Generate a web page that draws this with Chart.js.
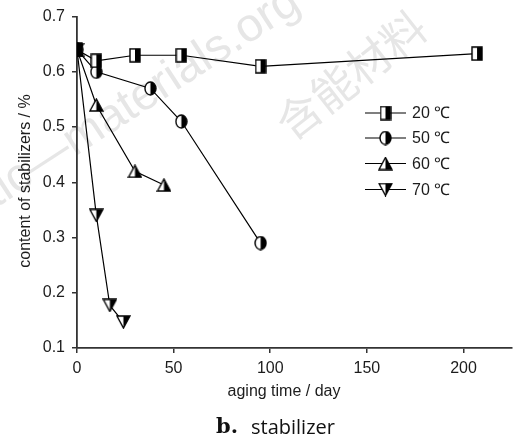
<!DOCTYPE html>
<html>
<head>
<meta charset="utf-8">
<script src="https://cdn.jsdelivr.net/npm/chart.js@4"></script>
<style>
  html, body { margin: 0; padding: 0; background: #fff; }
  canvas { display: block; }
</style>
</head>
<body>
<canvas id="chart" width="519" height="443"></canvas>
<script>
/* stabilizer content vs aging time, four temperatures */
var days20 = [0, 10, 30, 54, 95, 207];
var vals20 = [0.64, 0.62, 0.63, 0.63, 0.61, 0.633];
var days50 = [0, 10, 38, 54, 95];
var vals50 = [0.64, 0.60, 0.57, 0.51, 0.29];
var days60 = [0, 10, 30, 45];
var vals60 = [0.64, 0.54, 0.42, 0.395];
var days70 = [0, 10, 17, 24];
var vals70 = [0.64, 0.34, 0.177, 0.147];
var seriesLabels = ['20 \u2103', '50 \u2103', '60 \u2103', '70 \u2103'];
var xTicks = [0, 50, 100, 150, 200];

var FONT = '"Liberation Sans", Arial, sans-serif';
var INK = '#1c1c1c';

/* --- half-filled markers (left white, right black) --- */
function makeMarker(shape, w, h) {
  var c = document.createElement('canvas');
  c.width = w + 2; c.height = h + 2;
  var ctx = c.getContext('2d');
  function path() {
    ctx.beginPath();
    if (shape === 'rect') {
      ctx.rect(1, 1, w, h);
    } else if (shape === 'circle') {
      ctx.ellipse(1 + w / 2, 1 + h / 2, w / 2, h / 2, 0, 0, Math.PI * 2);
    } else if (shape === 'up') {
      ctx.moveTo(1 + w / 2, 1); ctx.lineTo(1 + w, 1 + h); ctx.lineTo(1, 1 + h); ctx.closePath();
    } else {
      ctx.moveTo(1, 1); ctx.lineTo(1 + w, 1); ctx.lineTo(1 + w / 2, 1 + h); ctx.closePath();
    }
  }
  path();
  ctx.fillStyle = '#fff';
  ctx.fill();
  ctx.save();
  ctx.clip();
  ctx.fillStyle = '#000';
  ctx.fillRect(1 + w / 2, 0, w, h + 2);
  ctx.restore();
  path();
  ctx.lineWidth = 1.4;
  ctx.strokeStyle = '#000';
  ctx.stroke();
  return c;
}

var markers = [
  makeMarker('rect', 10, 13),
  makeMarker('circle', 11, 13),
  makeMarker('up', 13, 12),
  makeMarker('down', 13, 12)
];

function pairs(xs, ys) {
  var out = [];
  for (var i = 0; i < xs.length; i++) out.push({ x: xs[i], y: ys[i] });
  return out;
}

function series(label, xs, ys, idx) {
  return {
    label: label,
    data: pairs(xs, ys),
    borderColor: '#000',
    borderWidth: 1.2,
    pointStyle: markers[idx],
    pointRadius: 6,
    tension: 0,
    fill: false
  };
}

/* --- faint watermark behind the plot --- */
var watermark = {
  id: 'watermark',
  beforeDraw: function(chart) {
    var ctx = chart.ctx;
    ctx.save();
    ctx.fillStyle = '#e6e6e6';
    ctx.translate(-4, 208);
    ctx.rotate(-33 * Math.PI / 180);
    ctx.font = '47px "Liberation Sans", sans-serif';
    ctx.textBaseline = 'alphabetic';
    ctx.fillText('tic\u2014materials.org', 0, 0);
    ctx.restore();
    ctx.save();
    ctx.fillStyle = '#e6e6e6';
    ctx.translate(292, 142);
    ctx.rotate(-38 * Math.PI / 180);
    ctx.font = '44px "Noto Sans CJK SC", sans-serif';
    ctx.fillText('\u542b\u80fd\u6750\u6599', 0, 0);
    ctx.restore();
  }
};

/* --- legend, axis titles and caption --- */
var annotations = {
  id: 'annotations',
  afterDraw: function(chart) {
    var ctx = chart.ctx;
    ctx.save();
    // legend
    var rowY = [113, 138, 163.5, 189.5];
    ctx.font = '16px ' + FONT;
    ctx.textBaseline = 'middle';
    ctx.textAlign = 'left';
    for (var i = 0; i < seriesLabels.length; i++) {
      var y = rowY[i];
      ctx.beginPath();
      ctx.strokeStyle = '#000';
      ctx.lineWidth = 1.2;
      ctx.moveTo(365, y);
      ctx.lineTo(406, y);
      ctx.stroke();
      var m = markers[i];
      ctx.drawImage(m, 385.5 - m.width / 2, y - m.height / 2);
      ctx.fillStyle = INK;
      ctx.fillText(seriesLabels[i], 412, y + 1);
    }
    // axis titles
    ctx.fillStyle = INK;
    ctx.textAlign = 'center';
    ctx.font = '16px ' + FONT;
    ctx.fillText('aging time / day', 284, 392);
    ctx.save();
    ctx.translate(26, 181);
    ctx.rotate(-Math.PI / 2);
    ctx.fillText('content of stabilizers / %', 0, 0);
    ctx.restore();
    // caption
    ctx.textAlign = 'left';
    ctx.font = 'bold 21px "DejaVu Serif", "Liberation Serif", serif';
    ctx.fillStyle = '#111';
    ctx.fillText('b.', 216, 428);
    ctx.font = '20px "Open Sans", sans-serif';
    ctx.fillText('stabilizer', 251, 428);
    ctx.restore();
  }
};

new Chart(document.getElementById('chart'), {
  type: 'line',
  data: {
    datasets: [
      series(seriesLabels[0], days20, vals20, 0),
      series(seriesLabels[1], days50, vals50, 1),
      series(seriesLabels[2], days60, vals60, 2),
      series(seriesLabels[3], days70, vals70, 3)
    ]
  },
  options: {
    responsive: false,
    devicePixelRatio: 1,
    animation: false,
    layout: { padding: { top: 12, right: 0, left: 0, bottom: 0 } },
    plugins: {
      legend: { display: false },
      tooltip: { enabled: false }
    },
    scales: {
      x: {
        type: 'linear',
        min: 0,
        max: 225,
        afterBuildTicks: function(s) {
          s.ticks = xTicks.map(function(v) { return { value: v }; });
        },
        afterFit: function(s) { s.height = 95; },
        grid: { drawOnChartArea: false, drawTicks: true, tickLength: 5, color: '#333', lineWidth: 1.5 },
        border: { color: '#333', width: 1.8 },
        ticks: { color: INK, font: { family: FONT, size: 16 }, padding: 6, maxRotation: 0 }
      },
      y: {
        min: 0.1,
        max: 0.7,
        afterFit: function(s) { s.width = 77; },
        grid: { drawOnChartArea: false, drawTicks: true, tickLength: 5, color: '#333', lineWidth: 1.5 },
        border: { color: '#333', width: 1.8 },
        ticks: {
          stepSize: 0.1,
          color: INK,
          font: { family: FONT, size: 16 },
          padding: 7,
          callback: function(v) { return v.toFixed(1); }
        }
      }
    }
  },
  plugins: [watermark, annotations]
});
</script>
</body>
</html>
